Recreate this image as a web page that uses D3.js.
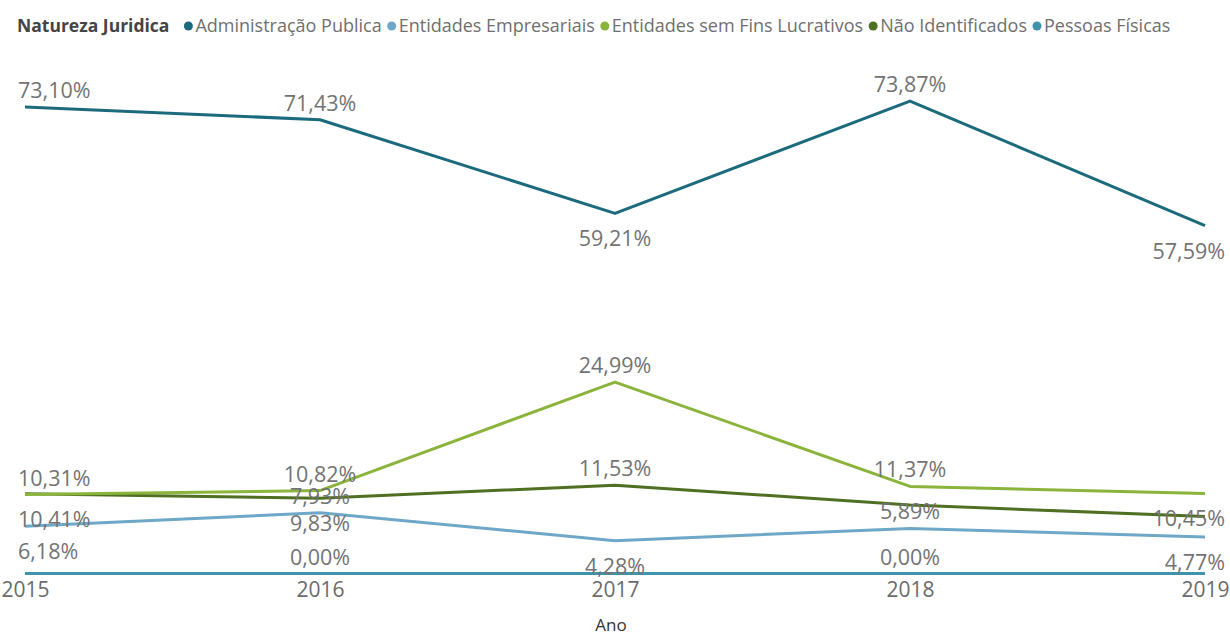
<!DOCTYPE html>
<html>
<head>
<meta charset="utf-8">
<script src="https://cdn.jsdelivr.net/npm/d3@7"></script>
<style>
  body { margin: 0; background: #fff; }
  svg { display: block; font-family: "Open Sans", "Noto Sans", sans-serif; }
</style>
</head>
<body>
<svg id="chart" width="1230" height="632"></svg>
<script>
const years = [2015, 2016, 2017, 2018, 2019];

const seriesNames = [
  "Administração Publica",
  "Entidades Empresariais",
  "Entidades sem Fins Lucrativos",
  "Não Identificados",
  "Pessoas Físicas"
];

const adminPublica = [73.10, 71.43, 59.21, 73.87, 57.59];
const empresariais = [6.18, 7.93, 4.28, 5.89, 4.77];
const semFins = [10.31, 10.82, 24.99, 11.37, 10.45];
const naoIdent = [10.41, 9.83, 11.53, 8.95, 7.43];
const pessoasFisicas = [0, 0, 0, 0, 0];

// which data labels power bi kept: a = above, b = below, null = hidden
const labelsAdmin = ["a", "a", "b", "a", "b"];
const labelsEmpresariais = ["b", "a", "b", "a", "b"];
const labelsSemFins = ["a", "a", "a", "a", "b"];
const labelsNaoIdent = ["b", "b", "a", null, null];
const labelsPessoas = [null, "a", null, "a", null];

const colors = ["#1c6b7d", "#6ea7c7", "#8ab43c", "#4f6f22", "#3f93ab"];

const series = [
  { name: seriesNames[0], values: adminPublica, labels: labelsAdmin, color: colors[0] },
  { name: seriesNames[1], values: empresariais, labels: labelsEmpresariais, color: colors[1] },
  { name: seriesNames[2], values: semFins, labels: labelsSemFins, color: colors[2] },
  { name: seriesNames[3], values: naoIdent, labels: labelsNaoIdent, color: colors[3] },
  { name: seriesNames[4], values: pessoasFisicas, labels: labelsPessoas, color: colors[4] }
];

const W = 1230, H = 632;
const svg = d3.select("#chart");

const x = d3.scalePoint().domain(years).range([25, 1205]);
// the axis in the screenshot is squeezed between ~25% and ~57%
const y = d3.scaleLinear()
  .domain([0, 25, 57.5, 75])
  .range([573.5, 382, 226.4, 92.4]);

const fmt = v => d3.format(".2f")(v).replace(".", ",") + "%";

// legend
const legend = svg.append("g").attr("transform", "translate(17, 32)");
let lx = 0;
const title = legend.append("text")
  .attr("x", lx)
  .attr("font-size", 17.5)
  .attr("font-weight", 700)
  .attr("fill", "#444")
  .text("Natureza Juridica");
lx += title.node().getComputedTextLength() + 15;
series.forEach(s => {
  legend.append("circle")
    .attr("cx", lx + 4)
    .attr("cy", -6)
    .attr("r", 4.5)
    .attr("fill", s.color);
  const t = legend.append("text")
    .attr("x", lx + 11)
    .attr("font-size", 18)
    .attr("fill", "#6f6f6f")
    .text(s.name);
  lx += 11 + t.node().getComputedTextLength() + 6;
});

// x axis
const xAxis = svg.append("g")
  .attr("transform", "translate(0, 574)")
  .call(d3.axisBottom(x).tickSize(0).tickPadding(8));
xAxis.select(".domain").remove();
xAxis.selectAll("text")
  .attr("font-size", 21)
  .attr("font-family", "Open Sans, sans-serif")
  .attr("fill", "#6b6b6b");

svg.append("text")
  .attr("x", x(2017) - 4)
  .attr("y", 631)
  .attr("text-anchor", "middle")
  .attr("font-size", 17)
  .attr("fill", "#333")
  .text("Ano");

// lines
const line = d3.line()
  .x((d, i) => x(years[i]))
  .y(d => y(d));

const drawOrder = [4, 1, 3, 2, 0];
drawOrder.forEach(k => {
  const s = series[k];
  svg.append("path")
    .datum(s.values)
    .attr("fill", "none")
    .attr("stroke", s.color)
    .attr("stroke-width", 3)
    .attr("stroke-linejoin", "round")
    .attr("d", line);
});

// data labels
const labelLayer = svg.append("g")
  .attr("font-size", 21.5)
  .attr("fill", "#737373");
series.forEach(s => {
  s.values.forEach((v, i) => {
    const pos = s.labels[i];
    if (!pos) return;
    const t = labelLayer.append("text")
      .attr("text-anchor", "middle")
      .attr("x", x(years[i]))
      .attr("y", pos === "a" ? y(v) - 9 : y(v) + 33)
      .text(fmt(v));
    // keep labels inside the plot like power bi does
    const w = t.node().getComputedTextLength();
    const cx = Math.max(18 + w / 2, Math.min(W - 5 - w / 2, x(years[i])));
    t.attr("x", cx);
  });
});
</script>
</body>
</html>
